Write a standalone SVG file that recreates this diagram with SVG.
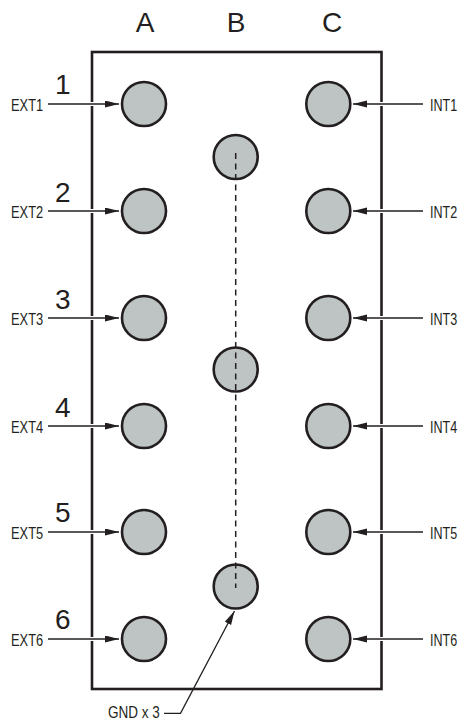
<svg xmlns="http://www.w3.org/2000/svg" width="461" height="723" viewBox="0 0 461 723">
<defs>
<style>
.pin{fill:#bec4c3;stroke:#231f20;stroke-width:2.6}
.box{fill:none;stroke:#231f20;stroke-width:2.6}
.lead{fill:none;stroke:#231f20;stroke-width:1.3}
.halo{fill:none;stroke:#ffffff;stroke-width:4}
.col{font-family:"Liberation Sans",Arial,sans-serif;font-size:28px;fill:#231f20;text-anchor:middle}
.num{font-family:"Liberation Sans",Arial,sans-serif;font-size:28px;fill:#231f20}
.lab{font-family:"Liberation Sans",Arial,sans-serif;font-size:16.5px;fill:#231f20}
.gnd{fill:none;stroke:#231f20;stroke-width:1.5;stroke-dasharray:6 4.5}
</style>
<marker id="ah" markerUnits="userSpaceOnUse" markerWidth="15" markerHeight="8" refX="14" refY="3.5" orient="auto">
<path d="M0,0 L14,3.5 L0,7 z" fill="#231f20"/>
</marker>
</defs>
<rect width="461" height="723" fill="#ffffff"/>

<g id="headers">
<text class="col" x="145" y="32">A</text>
<text class="col" x="236" y="32">B</text>
<text class="col" x="332" y="32">C</text>
</g>

<g id="housing">
<rect class="box" x="92" y="52" width="289.5" height="637"/>
</g>

<g id="connectors">
<line class="halo" x1="86" y1="104" x2="98" y2="104"/>
<line class="halo" x1="86" y1="211" x2="98" y2="211"/>
<line class="halo" x1="86" y1="318" x2="98" y2="318"/>
<line class="halo" x1="86" y1="426" x2="98" y2="426"/>
<line class="halo" x1="86" y1="532" x2="98" y2="532"/>
<line class="halo" x1="86" y1="639" x2="98" y2="639"/>
<line class="halo" x1="376" y1="104" x2="388" y2="104"/>
<line class="halo" x1="376" y1="211" x2="388" y2="211"/>
<line class="halo" x1="376" y1="318" x2="388" y2="318"/>
<line class="halo" x1="376" y1="426" x2="388" y2="426"/>
<line class="halo" x1="376" y1="532" x2="388" y2="532"/>
<line class="halo" x1="376" y1="639" x2="388" y2="639"/>
<line class="lead" x1="48" y1="104" x2="119" y2="104" marker-end="url(#ah)"/>
<line class="lead" x1="48" y1="211" x2="119" y2="211" marker-end="url(#ah)"/>
<line class="lead" x1="48" y1="318" x2="119" y2="318" marker-end="url(#ah)"/>
<line class="lead" x1="48" y1="426" x2="119" y2="426" marker-end="url(#ah)"/>
<line class="lead" x1="48" y1="532" x2="119" y2="532" marker-end="url(#ah)"/>
<line class="lead" x1="48" y1="639" x2="119" y2="639" marker-end="url(#ah)"/>
<line class="lead" x1="423" y1="104" x2="353" y2="104" marker-end="url(#ah)"/>
<line class="lead" x1="423" y1="211" x2="353" y2="211" marker-end="url(#ah)"/>
<line class="lead" x1="423" y1="318" x2="353" y2="318" marker-end="url(#ah)"/>
<line class="lead" x1="423" y1="426" x2="353" y2="426" marker-end="url(#ah)"/>
<line class="lead" x1="423" y1="532" x2="353" y2="532" marker-end="url(#ah)"/>
<line class="lead" x1="423" y1="639" x2="353" y2="639" marker-end="url(#ah)"/>
<polyline class="lead" points="164,713.3 180.5,713.3 234.5,611" marker-end="url(#ah)"/>
</g>

<g id="pin-A1"><circle class="pin" cx="144" cy="104" r="22"/></g>
<g id="pin-A2"><circle class="pin" cx="144" cy="211" r="22"/></g>
<g id="pin-A3"><circle class="pin" cx="144" cy="318" r="22"/></g>
<g id="pin-A4"><circle class="pin" cx="144" cy="426" r="22"/></g>
<g id="pin-A5"><circle class="pin" cx="144" cy="532" r="22"/></g>
<g id="pin-A6"><circle class="pin" cx="144" cy="639" r="22"/></g>
<g id="pin-C1"><circle class="pin" cx="328.3" cy="104" r="22"/></g>
<g id="pin-C2"><circle class="pin" cx="328.3" cy="211" r="22"/></g>
<g id="pin-C3"><circle class="pin" cx="328.3" cy="318" r="22"/></g>
<g id="pin-C4"><circle class="pin" cx="328.3" cy="426" r="22"/></g>
<g id="pin-C5"><circle class="pin" cx="328.3" cy="532" r="22"/></g>
<g id="pin-C6"><circle class="pin" cx="328.3" cy="639" r="22"/></g>
<g id="pin-B1"><circle class="pin" cx="235.7" cy="157" r="22"/></g>
<g id="pin-B2"><circle class="pin" cx="235.7" cy="369.5" r="22"/></g>
<g id="pin-B3"><circle class="pin" cx="235.7" cy="586.5" r="22"/></g>

<g id="ground-bus">
<line class="gnd" x1="235.7" y1="153" x2="235.7" y2="588"/>
</g>

<g id="row-numbers">
<text class="num" x="55" y="94">1</text>
<text class="num" x="55" y="202">2</text>
<text class="num" x="55" y="309">3</text>
<text class="num" x="55" y="417">4</text>
<text class="num" x="55" y="522">5</text>
<text class="num" x="55" y="629">6</text>
</g>

<g id="ext-labels">
<text class="lab" transform="translate(11,111) scale(0.78,1)">EXT1</text>
<text class="lab" transform="translate(11,218) scale(0.78,1)">EXT2</text>
<text class="lab" transform="translate(11,325) scale(0.78,1)">EXT3</text>
<text class="lab" transform="translate(11,433) scale(0.78,1)">EXT4</text>
<text class="lab" transform="translate(11,539) scale(0.78,1)">EXT5</text>
<text class="lab" transform="translate(11,646) scale(0.78,1)">EXT6</text>
</g>

<g id="int-labels">
<text class="lab" transform="translate(430,111) scale(0.76,1)">INT1</text>
<text class="lab" transform="translate(430,218) scale(0.76,1)">INT2</text>
<text class="lab" transform="translate(430,325) scale(0.76,1)">INT3</text>
<text class="lab" transform="translate(430,433) scale(0.76,1)">INT4</text>
<text class="lab" transform="translate(430,539) scale(0.76,1)">INT5</text>
<text class="lab" transform="translate(430,646) scale(0.76,1)">INT6</text>
</g>

<g id="gnd-label">
<text class="lab" transform="translate(108,718) scale(0.82,1)">GND x 3</text>
</g>
</svg>
